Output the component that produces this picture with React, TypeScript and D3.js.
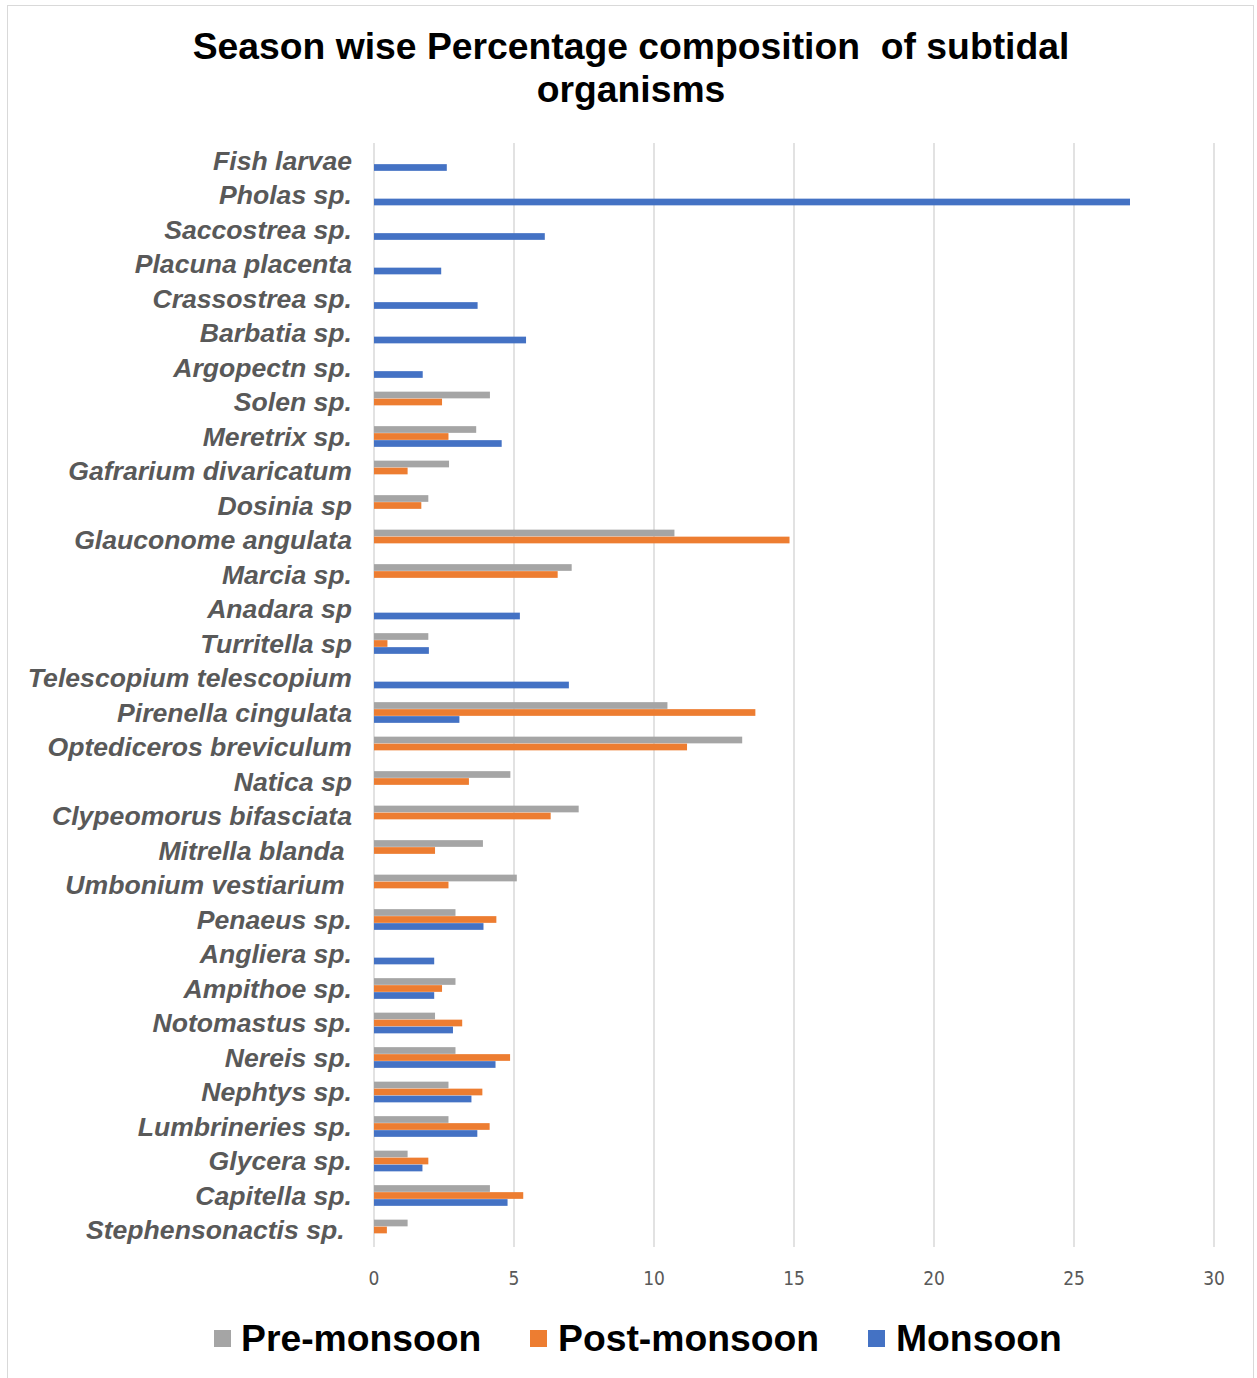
import React from "react";
import * as d3 from "d3";

const categories = [
  "Fish larvae", "Pholas sp.", "Saccostrea sp.", "Placuna placenta", "Crassostrea sp.",
  "Barbatia sp.", "Argopectn sp.", "Solen sp.", "Meretrix sp.", "Gafrarium divaricatum",
  "Dosinia sp", "Glauconome angulata", "Marcia sp.", "Anadara sp", "Turritella sp",
  "Telescopium telescopium", "Pirenella cingulata", "Optediceros breviculum", "Natica sp",
  "Clypeomorus bifasciata", "Mitrella blanda ", "Umbonium vestiarium ", "Penaeus sp.",
  "Angliera sp.", "Ampithoe sp.", "Notomastus sp.", "Nereis sp.", "Nephtys sp.",
  "Lumbrineries sp.", "Glycera sp.", "Capitella sp.", "Stephensonactis sp. ",
];

const preMonsoon = [
  0, 0, 0, 0, 0, 0, 0, 4.14, 3.65, 2.68, 1.94, 10.73, 7.06, 0, 1.94, 0, 10.48, 13.15, 4.87,
  7.31, 3.89, 5.1, 2.91, 0, 2.91, 2.18, 2.91, 2.66, 2.66, 1.2, 4.14, 1.2,
];
const postMonsoon = [
  0, 0, 0, 0, 0, 0, 0, 2.43, 2.66, 1.2, 1.69, 14.84, 6.56, 0, 0.48, 0, 13.62, 11.18, 3.39,
  6.31, 2.18, 2.66, 4.37, 0, 2.43, 3.15, 4.86, 3.87, 4.13, 1.94, 5.33, 0.46,
];
const monsoon = [
  2.6, 27.0, 6.1, 2.4, 3.7, 5.43, 1.74, 0, 4.56, 0, 0, 0, 0, 5.21, 1.96, 6.96, 3.05, 0, 0,
  0, 0, 0, 3.91, 2.15, 2.15, 2.82, 4.34, 3.48, 3.69, 1.73, 4.77, 0,
];

const seriesNames = ["Pre-monsoon", "Post-monsoon", "Monsoon"];
const seriesColors = ["#A5A5A5", "#ED7D31", "#4472C4"];
const xTicks = [0, 5, 10, 15, 20, 25, 30];

export default function App() {
  const W = 1257;
  const H = 1378;
  const x = d3.scaleLinear().domain([0, 30]).range([374, 1214]);
  const y = d3.scaleBand<string>().domain(categories).range([143.4, 1247.4]);
  const inner = d3.scaleBand<string>().domain(seriesNames).range([-10.5, 10.5]);
  const seriesData = [preMonsoon, postMonsoon, monsoon];
  const barH = inner.bandwidth() - 0.3;

  const legendItems = [
    { x: 214, tx: 241 },
    { x: 530, tx: 558 },
    { x: 868, tx: 896 },
  ];

  return (
    <svg
      width={W}
      height={H}
      style={{ position: "absolute", left: 0, top: 0, background: "#fff" }}
      fontFamily="'Liberation Sans', Arial, sans-serif"
    >
      <rect x={0} y={0} width={W} height={H} fill="#fff" />
      <rect x={7.5} y={5.5} width={1246} height={1380} fill="none" stroke="#D9D9D9" strokeWidth={1} />
      <text x={631} y={59} textAnchor="middle" fontSize={37.3} fontWeight="bold" fill="#000">
        Season wise Percentage composition{"\u00a0"} of subtidal
      </text>
      <text x={631} y={102} textAnchor="middle" fontSize={37.3} fontWeight="bold" fill="#000">
        organisms
      </text>

      {xTicks.map((t) => (
        <line key={"g" + t} x1={x(t)} x2={x(t)} y1={143} y2={1247} stroke="#D9D9D9" strokeWidth={1.5} />
      ))}

      {seriesData.map((vals, si) =>
        vals.map((v, i) =>
          v > 0 ? (
            <rect
              key={si + "-" + i}
              x={x(0)}
              y={(y(categories[i]) as number) + y.bandwidth() / 2 + (inner(seriesNames[si]) as number)}
              width={x(v) - x(0)}
              height={barH}
              fill={seriesColors[si]}
            />
          ) : null
        )
      )}

      {categories.map((c) => (
        <text
          key={c}
          x={352}
          y={(y(c) as number) + y.bandwidth() / 2}
          dy="0.35em"
          textAnchor="end"
          fontSize={26.6}
          fontWeight="bold"
          fontStyle="italic"
          fill="#595959"
          style={{ whiteSpace: "pre" }}
        >
          {c}
        </text>
      ))}

      {xTicks.map((t) => (
        <text
          key={"t" + t}
          x={x(t)}
          y={1285}
          textAnchor="middle"
          fontSize={19}
          fill="#595959"
          fontFamily="'Liberation Sans Narrow', 'DejaVu Sans', sans-serif"
          style={{ fontStretch: "condensed" }}
        >
          {t}
        </text>
      ))}

      {seriesNames.map((s, i) => (
        <g key={s}>
          <rect x={legendItems[i].x} y={1330} width={17} height={17} fill={seriesColors[i]} />
          <text x={legendItems[i].tx} y={1351} fontSize={37.3} fontWeight="bold" fill="#000">
            {s}
          </text>
        </g>
      ))}
    </svg>
  );
}
